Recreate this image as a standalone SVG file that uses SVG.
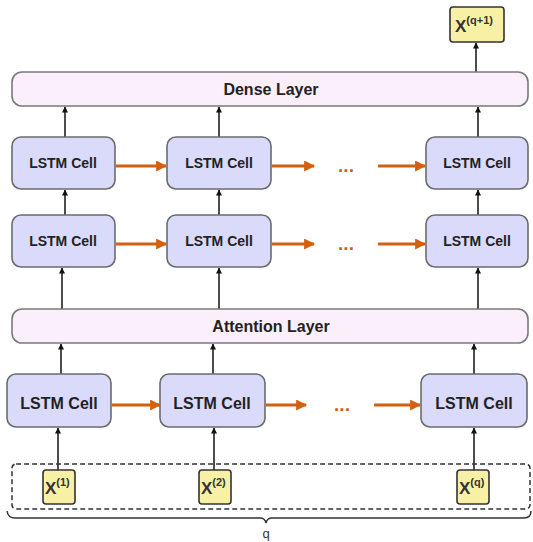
<svg xmlns="http://www.w3.org/2000/svg" width="533" height="542" viewBox="0 0 533 542">
<defs>
<marker id="ah" viewBox="0 0 10 10" refX="9" refY="5" markerWidth="8" markerHeight="6" orient="auto" markerUnits="userSpaceOnUse">
<path d="M0,0 L10,5 L0,10 z" fill="#111"/>
</marker>
<marker id="oh" viewBox="0 0 10 10" refX="9" refY="5" markerWidth="13" markerHeight="11" orient="auto" markerUnits="userSpaceOnUse">
<path d="M0,0 L10,5 L0,10 z" fill="#d2600e"/>
</marker>
<style>
.cell{fill:#dadafa;stroke:#6b6b6b;stroke-width:1.6}
.layer{fill:#fbeffb;stroke:#7a7a7a;stroke-width:1.6}
.xb{fill:#f8f0a4;stroke:#333;stroke-width:1.6}
.t{font-family:"Liberation Sans",Arial,sans-serif;font-weight:bold;fill:#222;text-anchor:middle}
.s14{font-size:14px}
.s16{font-size:16px}
.xt{font-family:"Liberation Sans",Arial,sans-serif;font-weight:bold;fill:#333;font-size:17px}
.sup{font-size:11px}
.v{stroke:#111;stroke-width:1.5;fill:none;marker-end:url(#ah)}
.o{stroke:#d2600e;stroke-width:3;fill:none;marker-end:url(#oh)}
.dots{font-family:"Liberation Sans",Arial,sans-serif;font-weight:bold;fill:#d2600e;font-size:19px;text-anchor:middle}
</style>
</defs>

<g id="connectors">
<line class="v" x1="476" y1="72" x2="476" y2="43"/>
<line class="v" x1="65" y1="137" x2="65" y2="107"/>
<line class="v" x1="219" y1="137" x2="219" y2="107"/>
<line class="v" x1="478" y1="137" x2="478" y2="107"/>
<line class="v" x1="65" y1="215" x2="65" y2="190"/>
<line class="v" x1="219" y1="215" x2="219" y2="190"/>
<line class="v" x1="478" y1="215" x2="478" y2="190"/>
<line class="v" x1="62" y1="309" x2="62" y2="268"/>
<line class="v" x1="219" y1="309" x2="219" y2="268"/>
<line class="v" x1="478" y1="309" x2="478" y2="268"/>
<line class="v" x1="61" y1="374" x2="61" y2="344"/>
<line class="v" x1="213" y1="374" x2="213" y2="344"/>
<line class="v" x1="474" y1="374" x2="474" y2="344"/>
<line class="v" x1="58" y1="470" x2="58" y2="428"/>
<line class="v" x1="214" y1="470" x2="214" y2="428"/>
<line class="v" x1="474" y1="470" x2="474" y2="428"/>
<line class="o" x1="116" y1="166" x2="166" y2="166"/>
<line class="o" x1="272" y1="166" x2="314" y2="166"/>
<line class="o" x1="378" y1="166" x2="425" y2="166"/>
<line class="o" x1="116" y1="244" x2="166" y2="244"/>
<line class="o" x1="272" y1="244" x2="314" y2="244"/>
<line class="o" x1="378" y1="244" x2="425" y2="244"/>
<line class="o" x1="112" y1="405" x2="160" y2="405"/>
<line class="o" x1="266" y1="405" x2="306" y2="405"/>
<line class="o" x1="374" y1="405" x2="420" y2="405"/>
</g>

<g id="dots">
<text class="dots" x="346" y="172">...</text>
<text class="dots" x="346" y="250">...</text>
<text class="dots" x="342" y="411">...</text>
</g>

<g id="xq1"><rect class="xb" x="450" y="7" width="54" height="35" rx="3"/><text class="xt" x="455" y="32">X<tspan class="sup" dy="-8">(q+1)</tspan></text></g>

<g id="dense"><rect class="layer" x="12" y="72" width="516" height="34" rx="10"/><text class="t s16" x="271" y="95">Dense Layer</text></g>

<g id="c11"><rect class="cell" x="12" y="137" width="103" height="52" rx="9"/><text class="t s14" x="63" y="168">LSTM Cell</text></g>
<g id="c12"><rect class="cell" x="167" y="137" width="104" height="52" rx="9"/><text class="t s14" x="219" y="168">LSTM Cell</text></g>
<g id="c13"><rect class="cell" x="426" y="137" width="102" height="52" rx="9"/><text class="t s14" x="477" y="168">LSTM Cell</text></g>

<g id="c21"><rect class="cell" x="12" y="215" width="103" height="52" rx="9"/><text class="t s14" x="63" y="246">LSTM Cell</text></g>
<g id="c22"><rect class="cell" x="167" y="215" width="104" height="52" rx="9"/><text class="t s14" x="219" y="246">LSTM Cell</text></g>
<g id="c23"><rect class="cell" x="426" y="215" width="102" height="52" rx="9"/><text class="t s14" x="477" y="246">LSTM Cell</text></g>

<g id="attention"><rect class="layer" x="12" y="309" width="516" height="34" rx="10"/><text class="t s16" x="271" y="332">Attention Layer</text></g>

<g id="c31"><rect class="cell" x="7" y="374" width="104" height="53" rx="9"/><text class="t s16" x="59" y="409">LSTM Cell</text></g>
<g id="c32"><rect class="cell" x="160" y="374" width="105" height="53" rx="9"/><text class="t s16" x="212" y="409">LSTM Cell</text></g>
<g id="c33"><rect class="cell" x="421" y="374" width="106" height="53" rx="9"/><text class="t s16" x="474" y="409">LSTM Cell</text></g>

<g id="inputs">
<rect x="12" y="464" width="518" height="45" rx="4" fill="none" stroke="#333" stroke-width="1.5" stroke-dasharray="5,3"/>
<g id="x1"><rect class="xb" x="43" y="470" width="32" height="34" rx="3"/><text class="xt" x="45" y="494">X<tspan class="sup" dy="-8">(1)</tspan></text></g>
<g id="x2"><rect class="xb" x="199" y="470" width="32" height="34" rx="3"/><text class="xt" x="201" y="494">X<tspan class="sup" dy="-8">(2)</tspan></text></g>
<g id="xq"><rect class="xb" x="457" y="470" width="32" height="34" rx="3"/><text class="xt" x="459" y="494">X<tspan class="sup" dy="-8">(q)</tspan></text></g>
</g>

<g id="brace">
<path d="M7,511 Q8,518 15,518 L260,518 Q265,518 266,523 Q267,518 272,518 L524,518 Q531,518 531,511" fill="none" stroke="#333" stroke-width="1.5"/>
<text x="266" y="538" font-family="Liberation Sans, Arial, sans-serif" font-size="13" fill="#333" text-anchor="middle">q</text>
</g>
</svg>
